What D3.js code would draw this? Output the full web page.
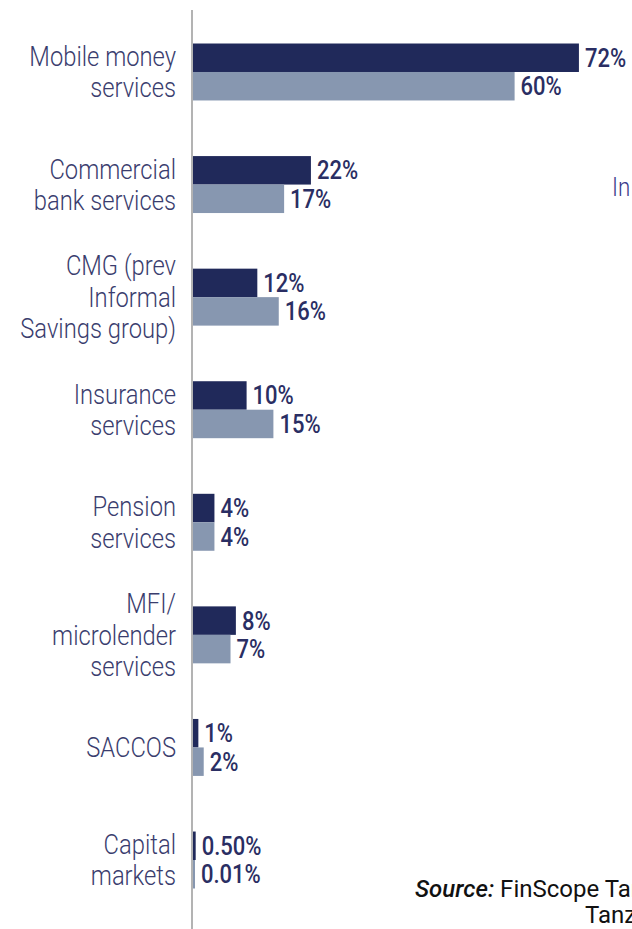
<!DOCTYPE html>
<html><head><meta charset="utf-8">
<script src="https://cdn.jsdelivr.net/npm/d3@7"></script>
<style>
html,body{margin:0;padding:0;background:#fff;overflow:hidden;}
svg{display:block;}
</style></head>
<body>
<script>
const categories = ["Mobile money services","Commercial bank services","CMG (prev Informal Savings group)","Insurance services","Pension services","MFI/ microlender services","SACCOS","Capital markets"];
const categoryLines = [["Mobile money","services"],["Commercial","bank services"],["CMG (prev","Informal","Savings group)"],["Insurance","services"],["Pension","services"],["MFI/","microlender","services"],["SACCOS"],["Capital","markets"]];
const seriesNames = ["Series A","Series B"];
const seriesA = [72,22,12,10,4,8,1,0.5];
const seriesB = [60,17,16,15,4,7,2,0.01];
const labelsA = ["72%","22%","12%","10%","4%","8%","1%","0.50%"];
const labelsB = ["60%","17%","16%","15%","4%","7%","2%","0.01%"];
const sourceLines = ["FinScope Tanzania","Tanzania"];

const W = 632, H = 929;
const svg = d3.select("body").append("svg").attr("width", W).attr("height", H);

const x = d3.scaleLinear().domain([0, 80]).range([193, 193 + 80*5.36]);
const y = d3.scaleBand().domain(categories).range([15.7, 916.3]).paddingInner(0.494).paddingOuter(0.247);
const ySub = d3.scaleBand().domain(seriesNames).range([0, y.bandwidth()]);
const colors = {"Series A":"#20295a","Series B":"#8797b0"};

const rows = categories.map((c,i)=>({c, i, vals:[
  {s:"Series A", v:seriesA[i], l:labelsA[i]},
  {s:"Series B", v:seriesB[i], l:labelsB[i]}
]}));

const g = svg.selectAll("g.cat").data(rows).join("g").attr("class","cat")
  .attr("transform", d=>`translate(0,${y(d.c)})`);

g.selectAll("rect").data(d=>d.vals).join("rect")
  .attr("x", x(0))
  .attr("y", d=>ySub(d.s))
  .attr("width", d=>Math.max(2, x(d.v)-x(0)))
  .attr("height", ySub.bandwidth())
  .attr("fill", d=>colors[d.s]);

g.selectAll("text.val").data(d=>d.vals).join("text").attr("class","val")
  .attr("transform", d=>`translate(${x(0) + Math.max(2, x(d.v)-x(0)) + 6},${ySub(d.s) + ySub.bandwidth()/2}) scale(0.88,1)`)
  .attr("dy","0.36em")
  .attr("font-family","Roboto, sans-serif")
  .attr("font-weight", 500)
  .attr("font-size", 25)
  .attr("fill","#2a2e63")
  .text(d=>d.l);

// category labels
const lh = 31.5;
g.each(function(d){
  const n = categoryLines[d.i].length;
  const t = d3.select(this).append("text")
    .attr("transform", `translate(176,${y.bandwidth()/2}) scale(0.88,1)`)
    .attr("text-anchor","end")
    .attr("font-family","Roboto, sans-serif")
    .attr("font-weight", 300)
    .attr("font-size", 27)
    .attr("fill","#3a3d6e");
  categoryLines[d.i].forEach((line,k)=>{
    t.append("tspan").attr("x", 0)
      .attr("y", (k - (n-1)/2)*lh)
      .attr("dy","0.36em")
      .text(line);
  });
});

// axis line
svg.append("line").attr("x1",192).attr("x2",192).attr("y1",10).attr("y2",H)
  .attr("stroke","#b3b3b3").attr("stroke-width",2);

// cut-off text on right
svg.append("text").attr("transform","translate(612,196) scale(0.86,1)")
  .attr("font-family","Roboto, sans-serif").attr("font-weight",300)
  .attr("font-size",26).attr("fill","#3a3a8a").text("In");

// source
const src = svg.append("text").attr("transform","translate(415,897)")
  .attr("font-family","Roboto, sans-serif").attr("font-size",24).attr("fill","#111");
src.append("tspan").attr("font-weight",500).attr("font-style","italic").text("Source:");
src.append("tspan").text(" " + sourceLines[0]);
svg.append("text").attr("transform","translate(585,923)")
  .attr("font-family","Roboto, sans-serif").attr("font-size",24).attr("fill","#111")
  .text(sourceLines[1]);
</script>
</body></html>
